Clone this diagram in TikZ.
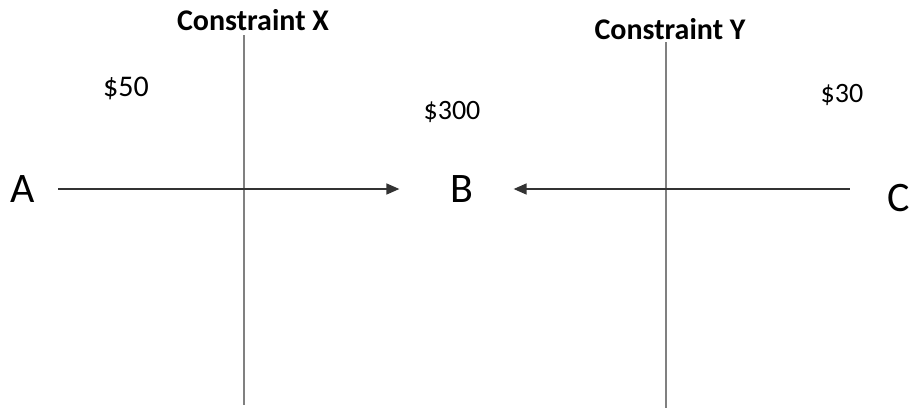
\documentclass[tikz,border=0pt]{standalone}
\usepackage{fontspec}
\setmainfont{Carlito}
\usetikzlibrary{arrows.meta}
\begin{document}
\begin{tikzpicture}[x=1pt,y=-1pt,
  lbl/.style={inner sep=0pt, font=\fontsize{42}{42}\selectfont},
  price/.style={inner sep=0pt, font=\fontsize{28}{28}\selectfont},
  head/.style={inner sep=0pt, font=\bfseries\fontsize{30}{30}\selectfont},
  axis/.style={draw=black!50, line width=1.4pt},
  arr/.style={draw=black!80, line width=1.5pt, -{Triangle[length=13pt,width=11pt]}}]
\useasboundingbox[fill=white] (0,0) rectangle (915,410);
% labels
\node[head] (cx) at (253,20) {Constraint X};
\node[head] (cy) at (670,29) {Constraint Y};
\node[price, font=\fontsize{30}{30}\selectfont] (p50) at (126,88) {\$50};
\node[price] (p300) at (452,112) {\$300};
\node[price] (p30) at (842,95) {\$30};
\node[lbl] (A) at (23,189) {A};
\node[lbl] (B) at (462,189) {B};
\node[lbl] (C) at (899,198) {C};
% axes
\coordinate (xt) at (244,35);
\coordinate (xb) at (244,405);
\coordinate (yt) at (666,42);
\coordinate (yb) at (666,408);
\draw[axis] (xt) -- (xb);
\draw[axis] (yt) -- (yb);
% arrows
\draw[arr, shorten <=23pt, shorten >=51pt] (A.east) -- (B.west);
\draw[arr, shorten <=38pt, shorten >=40pt] (C.west |- B.east) -- (B.east);
\end{tikzpicture}
\end{document}
